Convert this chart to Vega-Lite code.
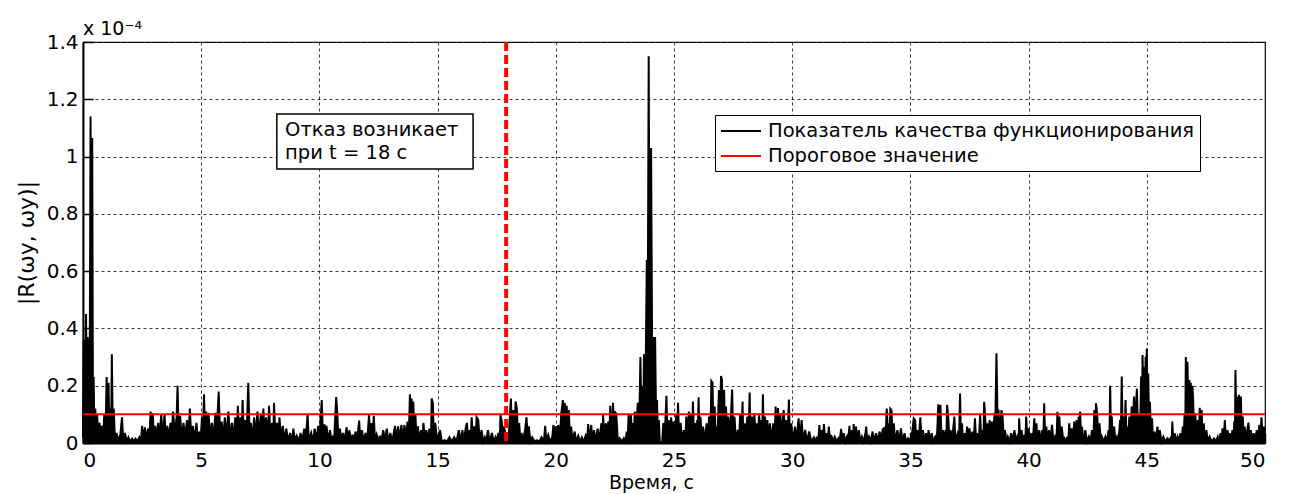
{
"$schema": "https://vega.github.io/schema/vega-lite/v6.json",
"width": 1182, "height": 401,
"autosize": {"type": "none"},
"padding": {"left": 83, "top": 42, "right": 31, "bottom": 51},
"background": "white",
"title": {"text": "x 10⁻⁴", "anchor": "start", "frame": "group", "fontSize": 19, "font": "DejaVu Sans", "fontWeight": "normal", "offset": -7, "color": "black"},
"config": {
 "view": {"stroke": "black", "strokeWidth": 1.2},
 "axis": {"gridColor": "#222222", "gridDash": [3, 3], "gridOpacity": 1, "gridWidth": 0.9, "domainColor": "black", "tickColor": "black", "labelColor": "black", "titleColor": "black", "labelFont": "DejaVu Sans", "titleFont": "DejaVu Sans", "labelFontSize": 20, "titleFontSize": 20, "titleFontWeight": "normal", "tickSize": -10, "domainWidth": 2, "tickWidth": 1.5},
 "legend": {"orient": "none", "legendX": 632, "legendY": 73, "fillColor": "white", "strokeColor": "black", "padding": 5, "symbolType": "M-2,0H2", "symbolSize": 400, "symbolOffset": 10, "symbolStrokeWidth": 1.8, "labelFontSize": 19.5, "labelFont": "DejaVu Sans", "labelColor": "black", "labelLimit": 800, "rowPadding": 4, "labelOffset": 16}
},
"datasets": {"r": [
{"t":0,"v":0.02},{"t":0.03,"v":0.36},{"t":0.06,"v":0.05},{"t":0.1,"v":0.3},{"t":0.13,"v":0.45},{"t":0.16,"v":0.08},{"t":0.19,"v":0.37},{"t":0.22,"v":0.33},{"t":0.25,"v":0.1},{"t":0.29,"v":0.4},{"t":0.32,"v":1.14},{"t":0.35,"v":0.15},{"t":0.39,"v":1.065},{"t":0.42,"v":0.12},{"t":0.45,"v":0.23},{"t":0.48,"v":0.04},{"t":0.52,"v":0.12},{"t":0.56,"v":0.02},{"t":0.6,"v":0.1},{"t":0.64,"v":0.01},{"t":0.7,"v":0.07},{"t":0.75,"v":0.02},{"t":0.8,"v":0.06},{"t":0.85,"v":0.01},{"t":0.9,"v":0.1},{"t":0.95,"v":0.02},{"t":1,"v":0.23},{"t":1.04,"v":0.05},{"t":1.08,"v":0.21},{"t":1.12,"v":0.03},{"t":1.16,"v":0.12},{"t":1.19,"v":0.02},{"t":1.22,"v":0.31},{"t":1.26,"v":0.04},{"t":1.3,"v":0.12},{"t":1.35,"v":0.01},{"t":1.42,"v":0.035},{"t":1.5,"v":0.005},{"t":1.58,"v":0.03},{"t":1.65,"v":0.09},{"t":1.7,"v":0.01},{"t":1.77,"v":0.035},{"t":1.85,"v":0.005},{"t":1.92,"v":0.02},{"t":2,"v":0.005},{"t":2.08,"v":0.015},{"t":2.15,"v":0.005},{"t":2.22,"v":0.015},{"t":2.3,"v":0.005},{"t":2.38,"v":0.02},{"t":2.45,"v":0.005},{"t":2.5,"v":0.06},{"t":2.56,"v":0.01},{"t":2.62,"v":0.055},{"t":2.68,"v":0.01},{"t":2.75,"v":0.05},{"t":2.8,"v":0.01},{"t":2.86,"v":0.11},{"t":2.9,"v":0.02},{"t":2.95,"v":0.105},{"t":3,"v":0.02},{"t":3.06,"v":0.06},{"t":3.12,"v":0.01},{"t":3.18,"v":0.07},{"t":3.24,"v":0.02},{"t":3.31,"v":0.1},{"t":3.37,"v":0.02},{"t":3.45,"v":0.1},{"t":3.5,"v":0.01},{"t":3.56,"v":0.06},{"t":3.62,"v":0.02},{"t":3.7,"v":0.07},{"t":3.75,"v":0.02},{"t":3.81,"v":0.11},{"t":3.88,"v":0.03},{"t":3.96,"v":0.09},{"t":4,"v":0.2},{"t":4.05,"v":0.02},{"t":4.11,"v":0.095},{"t":4.18,"v":0.01},{"t":4.25,"v":0.07},{"t":4.32,"v":0.02},{"t":4.4,"v":0.08},{"t":4.46,"v":0.02},{"t":4.52,"v":0.12},{"t":4.58,"v":0.02},{"t":4.65,"v":0.06},{"t":4.72,"v":0.01},{"t":4.8,"v":0.07},{"t":4.86,"v":0.01},{"t":4.93,"v":0.04},{"t":4.98,"v":0.01},{"t":5.03,"v":0.09},{"t":5.07,"v":0.03},{"t":5.12,"v":0.17},{"t":5.16,"v":0.03},{"t":5.21,"v":0.11},{"t":5.26,"v":0.02},{"t":5.31,"v":0.105},{"t":5.37,"v":0.02},{"t":5.45,"v":0.07},{"t":5.52,"v":0.01},{"t":5.6,"v":0.105},{"t":5.65,"v":0.03},{"t":5.74,"v":0.18},{"t":5.8,"v":0.02},{"t":5.87,"v":0.075},{"t":5.93,"v":0.01},{"t":6,"v":0.09},{"t":6.06,"v":0.02},{"t":6.15,"v":0.11},{"t":6.22,"v":0.02},{"t":6.3,"v":0.07},{"t":6.36,"v":0.01},{"t":6.44,"v":0.09},{"t":6.5,"v":0.02},{"t":6.55,"v":0.13},{"t":6.6,"v":0.02},{"t":6.66,"v":0.09},{"t":6.71,"v":0.02},{"t":6.75,"v":0.15},{"t":6.8,"v":0.03},{"t":6.86,"v":0.08},{"t":6.92,"v":0.02},{"t":6.99,"v":0.21},{"t":7.05,"v":0.02},{"t":7.1,"v":0.07},{"t":7.17,"v":0.01},{"t":7.24,"v":0.09},{"t":7.3,"v":0.02},{"t":7.38,"v":0.11},{"t":7.44,"v":0.02},{"t":7.52,"v":0.1},{"t":7.57,"v":0.02},{"t":7.63,"v":0.12},{"t":7.68,"v":0.02},{"t":7.74,"v":0.09},{"t":7.8,"v":0.01},{"t":7.87,"v":0.13},{"t":7.93,"v":0.02},{"t":8,"v":0.07},{"t":8.05,"v":0.01},{"t":8.08,"v":0.14},{"t":8.14,"v":0.02},{"t":8.2,"v":0.07},{"t":8.26,"v":0.01},{"t":8.31,"v":0.09},{"t":8.38,"v":0.01},{"t":8.45,"v":0.06},{"t":8.52,"v":0.01},{"t":8.6,"v":0.05},{"t":8.68,"v":0.005},{"t":8.76,"v":0.035},{"t":8.84,"v":0.005},{"t":8.9,"v":0.05},{"t":8.96,"v":0.01},{"t":9.04,"v":0.025},{"t":9.12,"v":0.005},{"t":9.2,"v":0.035},{"t":9.28,"v":0.01},{"t":9.36,"v":0.05},{"t":9.42,"v":0.01},{"t":9.5,"v":0.1},{"t":9.55,"v":0.01},{"t":9.65,"v":0.035},{"t":9.72,"v":0.005},{"t":9.8,"v":0.05},{"t":9.88,"v":0.01},{"t":9.95,"v":0.06},{"t":10,"v":0.02},{"t":10.1,"v":0.15},{"t":10.15,"v":0.02},{"t":10.22,"v":0.065},{"t":10.26,"v":0.01},
{"t":10.3,"v":0.06},{"t":10.36,"v":0.01},{"t":10.45,"v":0.045},{"t":10.5,"v":0.01},{"t":10.55,"v":0.02},{"t":10.62,"v":0.005},{"t":10.71,"v":0.16},{"t":10.76,"v":0.1},{"t":10.8,"v":0.02},{"t":10.87,"v":0.05},{"t":10.92,"v":0.01},{"t":11,"v":0.035},{"t":11.06,"v":0.005},{"t":11.15,"v":0.055},{"t":11.2,"v":0.01},{"t":11.27,"v":0.045},{"t":11.33,"v":0.005},{"t":11.4,"v":0.03},{"t":11.46,"v":0.005},{"t":11.53,"v":0.04},{"t":11.6,"v":0.01},{"t":11.68,"v":0.078},{"t":11.73,"v":0.01},{"t":11.8,"v":0.045},{"t":11.87,"v":0.005},{"t":11.95,"v":0.035},{"t":12.02,"v":0.005},{"t":12.1,"v":0.098},{"t":12.15,"v":0.01},{"t":12.2,"v":0.07},{"t":12.25,"v":0.01},{"t":12.3,"v":0.095},{"t":12.35,"v":0.01},{"t":12.42,"v":0.03},{"t":12.5,"v":0.005},{"t":12.56,"v":0.025},{"t":12.62,"v":0.005},{"t":12.7,"v":0.045},{"t":12.77,"v":0.01},{"t":12.85,"v":0.05},{"t":12.92,"v":0.005},{"t":13,"v":0.035},{"t":13.08,"v":0.005},{"t":13.2,"v":0.06},{"t":13.25,"v":0.01},{"t":13.33,"v":0.058},{"t":13.38,"v":0.01},{"t":13.47,"v":0.063},{"t":13.52,"v":0.01},{"t":13.6,"v":0.063},{"t":13.65,"v":0.01},{"t":13.73,"v":0.075},{"t":13.78,"v":0.02},{"t":13.83,"v":0.17},{"t":13.87,"v":0.06},{"t":13.9,"v":0.155},{"t":13.94,"v":0.05},{"t":13.97,"v":0.145},{"t":14.02,"v":0.02},{"t":14.06,"v":0.1},{"t":14.11,"v":0.01},{"t":14.17,"v":0.058},{"t":14.22,"v":0.005},{"t":14.3,"v":0.045},{"t":14.35,"v":0.005},{"t":14.4,"v":0.07},{"t":14.46,"v":0.01},{"t":14.52,"v":0.045},{"t":14.58,"v":0.005},{"t":14.65,"v":0.05},{"t":14.72,"v":0.01},{"t":14.75,"v":0.155},{"t":14.8,"v":0.14},{"t":14.84,"v":0.01},{"t":14.9,"v":0.07},{"t":14.98,"v":0.005},{"t":15.1,"v":0.045},{"t":15.18,"v":0.005},{"t":15.3,"v":0.01},{"t":15.4,"v":0.005},{"t":15.5,"v":0.02},{"t":15.6,"v":0.005},{"t":15.7,"v":0.02},{"t":15.8,"v":0.005},{"t":15.9,"v":0.045},{"t":15.97,"v":0.005},{"t":16.05,"v":0.045},{"t":16.1,"v":0.005},{"t":16.2,"v":0.058},{"t":16.24,"v":0.07},{"t":16.3,"v":0.01},{"t":16.36,"v":0.045},{"t":16.4,"v":0.01},{"t":16.44,"v":0.09},{"t":16.5,"v":0.01},{"t":16.55,"v":0.058},{"t":16.6,"v":0.01},{"t":16.65,"v":0.09},{"t":16.72,"v":0.08},{"t":16.78,"v":0.01},{"t":16.86,"v":0.045},{"t":16.93,"v":0.005},{"t":17,"v":0.02},{"t":17.06,"v":0.005},{"t":17.13,"v":0.045},{"t":17.2,"v":0.005},{"t":17.3,"v":0.035},{"t":17.37,"v":0.005},{"t":17.45,"v":0.02},{"t":17.5,"v":0.005},{"t":17.57,"v":0.035},{"t":17.63,"v":0.01},{"t":17.66,"v":0.098},{"t":17.72,"v":0.07},{"t":17.78,"v":0.01},{"t":17.8,"v":0.058},{"t":17.9,"v":0.02},{"t":18,"v":0.01},{"t":18.1,"v":0.155},{"t":18.15,"v":0.03},{"t":18.2,"v":0.115},{"t":18.25,"v":0.02},{"t":18.3,"v":0.145},{"t":18.35,"v":0.12},{"t":18.4,"v":0.02},{"t":18.45,"v":0.07},{"t":18.5,"v":0.01},{"t":18.55,"v":0.035},{"t":18.6,"v":0.005},{"t":18.7,"v":0.045},{"t":18.76,"v":0.09},{"t":18.82,"v":0.01},{"t":18.86,"v":0.058},{"t":18.92,"v":0.005},{"t":19,"v":0.02},{"t":19.1,"v":0.005},{"t":19.2,"v":0.01},{"t":19.3,"v":0.005},{"t":19.4,"v":0.02},{"t":19.5,"v":0.005},{"t":19.55,"v":0.06},{"t":19.6,"v":0.01},{"t":19.68,"v":0.028},{"t":19.75,"v":0.005},{"t":19.85,"v":0.02},{"t":19.9,"v":0.063},{"t":19.95,"v":0.01},{"t":20,"v":0.058},{"t":20.05,"v":0.01},{"t":20.1,"v":0.063},{"t":20.16,"v":0.01},{"t":20.24,"v":0.11},{"t":20.3,"v":0.15},{"t":20.35,"v":0.04},{"t":20.38,"v":0.14},{"t":20.43,"v":0.03},{"t":20.46,"v":0.13},{"t":20.5,"v":0.02},{"t":20.55,"v":0.115},{"t":20.6,"v":0.01},{"t":20.65,"v":0.057},
{"t":20.7,"v":0.01},{"t":20.8,"v":0.04},{"t":20.86,"v":0.005},{"t":20.95,"v":0.025},{"t":21.02,"v":0.005},{"t":21.1,"v":0.02},{"t":21.18,"v":0.005},{"t":21.26,"v":0.025},{"t":21.32,"v":0.005},{"t":21.37,"v":0.066},{"t":21.42,"v":0.01},{"t":21.5,"v":0.063},{"t":21.55,"v":0.01},{"t":21.62,"v":0.045},{"t":21.68,"v":0.005},{"t":21.77,"v":0.05},{"t":21.84,"v":0.01},{"t":21.93,"v":0.069},{"t":21.98,"v":0.01},{"t":22,"v":0.098},{"t":22.05,"v":0.02},{"t":22.12,"v":0.069},{"t":22.18,"v":0.01},{"t":22.22,"v":0.075},{"t":22.27,"v":0.02},{"t":22.3,"v":0.13},{"t":22.36,"v":0.03},{"t":22.42,"v":0.14},{"t":22.48,"v":0.02},{"t":22.5,"v":0.11},{"t":22.56,"v":0.1},{"t":22.62,"v":0.01},{"t":22.7,"v":0.017},{"t":22.8,"v":0.005},{"t":22.88,"v":0.017},{"t":22.95,"v":0.005},{"t":23,"v":0.04},{"t":23.04,"v":0.01},{"t":23.08,"v":0.1},{"t":23.13,"v":0.02},{"t":23.18,"v":0.1},{"t":23.22,"v":0.01},{"t":23.26,"v":0.07},{"t":23.3,"v":0.01},{"t":23.34,"v":0.11},{"t":23.38,"v":0.03},{"t":23.47,"v":0.14},{"t":23.52,"v":0.03},{"t":23.58,"v":0.3},{"t":23.62,"v":0.08},{"t":23.66,"v":0.2},{"t":23.7,"v":0.06},{"t":23.73,"v":0.31},{"t":23.77,"v":0.1},{"t":23.8,"v":0.24},{"t":23.85,"v":0.64},{"t":23.88,"v":0.2},{"t":23.93,"v":1.35},{"t":23.97,"v":0.3},{"t":24.03,"v":1.03},{"t":24.08,"v":0.25},{"t":24.12,"v":0.37},{"t":24.16,"v":0.2},{"t":24.2,"v":0.37},{"t":24.24,"v":0.1},{"t":24.28,"v":0.15},{"t":24.32,"v":0.02},{"t":24.36,"v":0.08},{"t":24.4,"v":0.002},{"t":24.5,"v":0.003},{"t":24.55,"v":0.07},{"t":24.6,"v":0.01},{"t":24.68,"v":0.165},{"t":24.72,"v":0.02},{"t":24.78,"v":0.08},{"t":24.83,"v":0.01},{"t":24.88,"v":0.09},{"t":24.93,"v":0.01},{"t":24.98,"v":0.075},{"t":25.04,"v":0.01},{"t":25.1,"v":0.1},{"t":25.13,"v":0.01},{"t":25.17,"v":0.14},{"t":25.22,"v":0.01},{"t":25.28,"v":0.07},{"t":25.35,"v":0.005},{"t":25.42,"v":0.045},{"t":25.48,"v":0.01},{"t":25.52,"v":0.092},{"t":25.57,"v":0.01},{"t":25.63,"v":0.11},{"t":25.67,"v":0.02},{"t":25.73,"v":0.104},{"t":25.77,"v":0.02},{"t":25.8,"v":0.145},{"t":25.85,"v":0.01},{"t":25.9,"v":0.07},{"t":25.94,"v":0.01},{"t":25.98,"v":0.08},{"t":26,"v":0.02},{"t":26.04,"v":0.16},{"t":26.08,"v":0.01},{"t":26.12,"v":0.092},{"t":26.18,"v":0.01},{"t":26.23,"v":0.057},{"t":26.3,"v":0.005},{"t":26.38,"v":0.069},{"t":26.44,"v":0.01},{"t":26.48,"v":0.092},{"t":26.54,"v":0.02},{"t":26.58,"v":0.216},{"t":26.63,"v":0.21},{"t":26.67,"v":0.02},{"t":26.72,"v":0.127},{"t":26.77,"v":0.01},{"t":26.8,"v":0.057},{"t":26.84,"v":0.01},{"t":26.9,"v":0.185},{"t":26.94,"v":0.05},{"t":26.99,"v":0.234},{"t":27.03,"v":0.22},{"t":27.08,"v":0.03},{"t":27.12,"v":0.185},{"t":27.16,"v":0.02},{"t":27.2,"v":0.127},{"t":27.25,"v":0.01},{"t":27.3,"v":0.092},{"t":27.36,"v":0.01},{"t":27.46,"v":0.187},{"t":27.5,"v":0.01},{"t":27.56,"v":0.092},{"t":27.62,"v":0.005},{"t":27.7,"v":0.046},{"t":27.75,"v":0.005},{"t":27.8,"v":0.104},{"t":27.85,"v":0.005},{"t":27.9,"v":0.145},{"t":27.93,"v":0.01},{"t":28,"v":0.069},{"t":28.05,"v":0.005},{"t":28.1,"v":0.092},{"t":28.15,"v":0.01},{"t":28.2,"v":0.176},{"t":28.24,"v":0.01},{"t":28.3,"v":0.092},{"t":28.35,"v":0.01},{"t":28.4,"v":0.104},{"t":28.45,"v":0.01},{"t":28.5,"v":0.069},{"t":28.55,"v":0.01},{"t":28.6,"v":0.104},{"t":28.65,"v":0.01},{"t":28.7,"v":0.08},{"t":28.73,"v":0.01},{"t":28.76,"v":0.17},{"t":28.8,"v":0.01},{"t":28.85,"v":0.092},{"t":28.9,"v":0.005},{"t":28.95,"v":0.08},{"t":29,"v":0.005},{"t":29.06,"v":0.069},{"t":29.12,"v":0.005},{"t":29.2,"v":0.069},{"t":29.25,"v":0.01},{"t":29.3,"v":0.127},{"t":29.35,"v":0.02},{"t":29.4,"v":0.122},{"t":29.45,"v":0.01},{"t":29.5,"v":0.104},{"t":29.55,"v":0.02},{"t":29.64,"v":0.115},{"t":29.7,"v":0.01},{"t":29.74,"v":0.08},{"t":29.8,"v":0.01},{"t":29.86,"v":0.152},{"t":29.9,"v":0.01},{"t":29.96,"v":0.069},{"t":30.02,"v":0.005},{"t":30.12,"v":0.057},{"t":30.18,"v":0.005},{"t":30.27,"v":0.086},{"t":30.32,"v":0.01},{"t":30.4,"v":0.08},{"t":30.46,"v":0.005},{"t":30.55,"v":0.046},{"t":30.62,"v":0.005},{"t":30.72,"v":0.04},{"t":30.8,"v":0.005},{"t":30.92,"v":0.02},{"t":31,"v":0.005},
{"t":31.05,"v":0.022},{"t":31.1,"v":0.005},{"t":31.15,"v":0.063},{"t":31.2,"v":0.01},{"t":31.25,"v":0.045},{"t":31.3,"v":0.01},{"t":31.34,"v":0.066},{"t":31.4,"v":0.005},{"t":31.45,"v":0.034},{"t":31.5,"v":0.005},{"t":31.55,"v":0.057},{"t":31.6,"v":0.005},{"t":31.65,"v":0.028},{"t":31.72,"v":0.005},{"t":31.8,"v":0.022},{"t":31.88,"v":0.005},{"t":31.95,"v":0.016},{"t":32,"v":0.005},{"t":32.07,"v":0.049},{"t":32.12,"v":0.005},{"t":32.18,"v":0.034},{"t":32.25,"v":0.005},{"t":32.32,"v":0.022},{"t":32.37,"v":0.005},{"t":32.42,"v":0.06},{"t":32.47,"v":0.005},{"t":32.53,"v":0.045},{"t":32.58,"v":0.005},{"t":32.6,"v":0.066},{"t":32.65,"v":0.01},{"t":32.7,"v":0.057},{"t":32.76,"v":0.005},{"t":32.82,"v":0.045},{"t":32.88,"v":0.005},{"t":32.95,"v":0.022},{"t":33.02,"v":0.005},{"t":33.1,"v":0.034},{"t":33.13,"v":0.057},{"t":33.18,"v":0.005},{"t":33.25,"v":0.022},{"t":33.32,"v":0.005},{"t":33.4,"v":0.04},{"t":33.46,"v":0.005},{"t":33.55,"v":0.034},{"t":33.62,"v":0.005},{"t":33.7,"v":0.04},{"t":33.77,"v":0.005},{"t":33.83,"v":0.051},{"t":33.88,"v":0.01},{"t":33.9,"v":0.057},{"t":33.95,"v":0.02},{"t":34,"v":0.12},{"t":34.05,"v":0.03},{"t":34.08,"v":0.069},{"t":34.12,"v":0.02},{"t":34.15,"v":0.12},{"t":34.2,"v":0.115},{"t":34.25,"v":0.01},{"t":34.3,"v":0.069},{"t":34.35,"v":0.005},{"t":34.45,"v":0.045},{"t":34.52,"v":0.005},{"t":34.6,"v":0.051},{"t":34.66,"v":0.005},{"t":34.75,"v":0.034},{"t":34.82,"v":0.005},{"t":34.9,"v":0.016},{"t":34.98,"v":0.005},{"t":35.08,"v":0.04},{"t":35.14,"v":0.086},{"t":35.2,"v":0.08},{"t":35.25,"v":0.01},{"t":35.3,"v":0.045},{"t":35.35,"v":0.005},{"t":35.42,"v":0.09},{"t":35.47,"v":0.01},{"t":35.53,"v":0.045},{"t":35.6,"v":0.005},{"t":35.66,"v":0.034},{"t":35.72,"v":0.005},{"t":35.77,"v":0.045},{"t":35.82,"v":0.005},{"t":35.9,"v":0.034},{"t":35.96,"v":0.005},{"t":36.05,"v":0.022},{"t":36.12,"v":0.01},{"t":36.18,"v":0.135},{"t":36.23,"v":0.02},{"t":36.27,"v":0.133},{"t":36.32,"v":0.01},{"t":36.38,"v":0.045},{"t":36.43,"v":0.005},{"t":36.49,"v":0.045},{"t":36.52,"v":0.01},{"t":36.55,"v":0.133},{"t":36.6,"v":0.092},{"t":36.65,"v":0.01},{"t":36.7,"v":0.045},{"t":36.76,"v":0.005},{"t":36.86,"v":0.092},{"t":36.9,"v":0.01},{"t":37,"v":0.034},{"t":37.06,"v":0.01},{"t":37.1,"v":0.173},{"t":37.14,"v":0.01},{"t":37.18,"v":0.069},{"t":37.23,"v":0.005},{"t":37.3,"v":0.034},{"t":37.35,"v":0.005},{"t":37.4,"v":0.057},{"t":37.45,"v":0.005},{"t":37.5,"v":0.051},{"t":37.55,"v":0.005},{"t":37.62,"v":0.04},{"t":37.68,"v":0.005},{"t":37.73,"v":0.086},{"t":37.78,"v":0.005},{"t":37.85,"v":0.034},{"t":37.9,"v":0.01},{"t":37.95,"v":0.098},{"t":38,"v":0.01},{"t":38.05,"v":0.045},{"t":38.09,"v":0.01},{"t":38.12,"v":0.144},{"t":38.16,"v":0.1},{"t":38.2,"v":0.01},{"t":38.25,"v":0.069},{"t":38.3,"v":0.02},{"t":38.35,"v":0.08},{"t":38.4,"v":0.02},{"t":38.45,"v":0.075},{"t":38.5,"v":0.03},{"t":38.55,"v":0.092},{"t":38.6,"v":0.11},{"t":38.64,"v":0.313},{"t":38.68,"v":0.11},{"t":38.73,"v":0.112},{"t":38.78,"v":0.02},{"t":38.85,"v":0.115},{"t":38.9,"v":0.092},{"t":38.95,"v":0.01},{"t":39,"v":0.045},{"t":39.06,"v":0.005},{"t":39.12,"v":0.022},{"t":39.2,"v":0.005},{"t":39.26,"v":0.034},{"t":39.33,"v":0.005},{"t":39.4,"v":0.045},{"t":39.46,"v":0.005},{"t":39.52,"v":0.022},{"t":39.58,"v":0.005},{"t":39.6,"v":0.086},{"t":39.65,"v":0.005},{"t":39.7,"v":0.045},{"t":39.76,"v":0.005},{"t":39.8,"v":0.028},{"t":39.86,"v":0.005},{"t":39.9,"v":0.092},{"t":39.95,"v":0.005},{"t":40,"v":0.051},{"t":40.06,"v":0.005},{"t":40.12,"v":0.034},{"t":40.18,"v":0.005},{"t":40.24,"v":0.086},{"t":40.3,"v":0.01},{"t":40.33,"v":0.069},{"t":40.38,"v":0.005},{"t":40.45,"v":0.045},{"t":40.52,"v":0.005},{"t":40.58,"v":0.045},{"t":40.62,"v":0.005},{"t":40.66,"v":0.139},{"t":40.7,"v":0.01},{"t":40.75,"v":0.057},{"t":40.8,"v":0.005},{"t":40.86,"v":0.045},{"t":40.92,"v":0.005},{"t":40.99,"v":0.063},{"t":41.05,"v":0.005},{"t":41.12,"v":0.022},{"t":41.18,"v":0.005},{"t":41.22,"v":0.109},{"t":41.26,"v":0.02},{"t":41.3,"v":0.092},
{"t":41.35,"v":0.01},{"t":41.4,"v":0.057},{"t":41.47,"v":0.005},{"t":41.52,"v":0.016},{"t":41.58,"v":0.005},{"t":41.64,"v":0.022},{"t":41.68,"v":0.005},{"t":41.72,"v":0.069},{"t":41.77,"v":0.005},{"t":41.82,"v":0.051},{"t":41.88,"v":0.01},{"t":41.93,"v":0.075},{"t":41.98,"v":0.02},{"t":42.03,"v":0.08},{"t":42.08,"v":0.02},{"t":42.12,"v":0.092},{"t":42.15,"v":0.03},{"t":42.18,"v":0.11},{"t":42.22,"v":0.01},{"t":42.26,"v":0.057},{"t":42.32,"v":0.005},{"t":42.4,"v":0.045},{"t":42.47,"v":0.005},{"t":42.55,"v":0.022},{"t":42.62,"v":0.005},{"t":42.68,"v":0.045},{"t":42.74,"v":0.005},{"t":42.78,"v":0.115},{"t":42.82,"v":0.03},{"t":42.85,"v":0.139},{"t":42.9,"v":0.104},{"t":42.95,"v":0.01},{"t":43,"v":0.069},{"t":43.05,"v":0.005},{"t":43.1,"v":0.022},{"t":43.18,"v":0.005},{"t":43.25,"v":0.022},{"t":43.32,"v":0.005},{"t":43.38,"v":0.045},{"t":43.42,"v":0.02},{"t":43.45,"v":0.2},{"t":43.49,"v":0.02},{"t":43.52,"v":0.092},{"t":43.56,"v":0.01},{"t":43.62,"v":0.057},{"t":43.67,"v":0.005},{"t":43.74,"v":0.022},{"t":43.8,"v":0.005},{"t":43.84,"v":0.045},{"t":43.87,"v":0.08},{"t":43.9,"v":0.02},{"t":43.94,"v":0.232},{"t":43.98,"v":0.02},{"t":44.02,"v":0.092},{"t":44.06,"v":0.01},{"t":44.1,"v":0.15},{"t":44.14,"v":0.02},{"t":44.18,"v":0.057},{"t":44.22,"v":0.02},{"t":44.26,"v":0.092},{"t":44.32,"v":0.03},{"t":44.36,"v":0.127},{"t":44.4,"v":0.05},{"t":44.46,"v":0.162},{"t":44.5,"v":0.06},{"t":44.58,"v":0.19},{"t":44.62,"v":0.07},{"t":44.68,"v":0.104},{"t":44.72,"v":0.05},{"t":44.76,"v":0.232},{"t":44.8,"v":0.1},{"t":44.82,"v":0.307},{"t":44.86,"v":0.15},{"t":44.89,"v":0.266},{"t":44.92,"v":0.12},{"t":44.95,"v":0.301},{"t":44.97,"v":0.15},{"t":45,"v":0.33},{"t":45.03,"v":0.1},{"t":45.06,"v":0.243},{"t":45.1,"v":0.05},{"t":45.13,"v":0.144},{"t":45.18,"v":0.03},{"t":45.22,"v":0.086},{"t":45.26,"v":0.01},{"t":45.32,"v":0.04},{"t":45.38,"v":0.005},{"t":45.45,"v":0.057},{"t":45.5,"v":0.005},{"t":45.55,"v":0.045},{"t":45.62,"v":0.005},{"t":45.7,"v":0.022},{"t":45.78,"v":0.005},{"t":45.88,"v":0.016},{"t":45.95,"v":0.005},{"t":46.02,"v":0.022},{"t":46.05,"v":0.005},{"t":46.08,"v":0.075},{"t":46.12,"v":0.005},{"t":46.18,"v":0.034},{"t":46.24,"v":0.005},{"t":46.3,"v":0.022},{"t":46.36,"v":0.005},{"t":46.42,"v":0.034},{"t":46.48,"v":0.01},{"t":46.52,"v":0.057},{"t":46.56,"v":0.02},{"t":46.6,"v":0.104},{"t":46.63,"v":0.05},{"t":46.65,"v":0.3},{"t":46.68,"v":0.15},{"t":46.72,"v":0.284},{"t":46.76,"v":0.1},{"t":46.8,"v":0.22},{"t":46.84,"v":0.08},{"t":46.86,"v":0.21},{"t":46.9,"v":0.06},{"t":46.93,"v":0.2},{"t":46.96,"v":0.152},{"t":47,"v":0.03},{"t":47.05,"v":0.104},{"t":47.1,"v":0.02},{"t":47.16,"v":0.08},{"t":47.2,"v":0.02},{"t":47.24,"v":0.123},{"t":47.28,"v":0.03},{"t":47.32,"v":0.115},{"t":47.36,"v":0.01},{"t":47.41,"v":0.069},{"t":47.46,"v":0.005},{"t":47.52,"v":0.045},{"t":47.58,"v":0.005},{"t":47.66,"v":0.022},{"t":47.74,"v":0.005},{"t":47.84,"v":0.016},{"t":47.92,"v":0.005},{"t":48,"v":0.022},{"t":48.06,"v":0.005},{"t":48.12,"v":0.034},{"t":48.18,"v":0.005},{"t":48.2,"v":0.051},{"t":48.25,"v":0.005},{"t":48.3,"v":0.08},{"t":48.35,"v":0.005},{"t":48.42,"v":0.045},{"t":48.48,"v":0.005},{"t":48.53,"v":0.034},{"t":48.58,"v":0.01},{"t":48.62,"v":0.045},{"t":48.67,"v":0.01},{"t":48.7,"v":0.075},{"t":48.73,"v":0.03},{"t":48.75,"v":0.255},{"t":48.79,"v":0.05},{"t":48.82,"v":0.162},{"t":48.86,"v":0.05},{"t":48.9,"v":0.168},{"t":48.94,"v":0.05},{"t":48.98,"v":0.162},{"t":49.02,"v":0.02},{"t":49.06,"v":0.092},{"t":49.1,"v":0.01},{"t":49.14,"v":0.057},{"t":49.2,"v":0.005},{"t":49.25,"v":0.045},{"t":49.3,"v":0.071},{"t":49.35,"v":0.005},{"t":49.4,"v":0.045},{"t":49.46,"v":0.005},{"t":49.52,"v":0.034},{"t":49.58,"v":0.005},{"t":49.65,"v":0.045},{"t":49.7,"v":0.005},{"t":49.76,"v":0.063},{"t":49.8,"v":0.01},{"t":49.85,"v":0.09},{"t":49.9,"v":0.02},{"t":49.95,"v":0.057},{"t":50,"v":0.04}
]},
"layer": [
 {"data": {"name": "r"},
  "mark": {"type": "area", "color": "#000000", "opacity": 1},
  "encoding": {"x": {"field": "t", "type": "quantitative"}, "y": {"field": "v", "type": "quantitative"}}},
 {"data": {"name": "r"},
  "mark": {"type": "line", "strokeWidth": 2},
  "encoding": {
   "x": {"field": "t", "type": "quantitative", "scale": {"domain": [0, 50], "nice": false, "zero": false},
         "axis": {"values": [0,5,10,15,20,25,30,35,40,45,50], "title": "Время, с", "labelPadding": 17, "titlePadding": 3, "titleX": 568, "titleFontSize": 19}},
   "y": {"field": "v", "type": "quantitative", "scale": {"domain": [0, 1.4], "nice": false},
         "axis": {"values": [0,0.2,0.4,0.6,0.8,1,1.2,1.4], "format": "~g", "title": "|R(ωy, ωy)|", "labelPadding": 15, "titlePadding": 8, "titleFontSize": 22}},
   "color": {"datum": "Показатель качества функционирования", "type": "nominal",
             "scale": {"domain": ["Показатель качества функционирования", "Пороговое значение"], "range": ["#000000", "#ff0000"]},
             "legend": {"title": null}}
  }},
 {"data": {"values": [{"t": 0, "v": 0.1}, {"t": 50, "v": 0.1}]},
  "mark": {"type": "line", "strokeWidth": 2},
  "encoding": {"x": {"field": "t", "type": "quantitative"}, "y": {"field": "v", "type": "quantitative"},
               "color": {"datum": "Пороговое значение", "type": "nominal"}}},
 {"data": {"values": [{"t": 17.9}]},
  "mark": {"type": "rule", "color": "#ff0000", "strokeWidth": 4, "strokeDash": [9, 4]},
  "encoding": {"x": {"field": "t", "type": "quantitative"}}},
 {"data": {"values": [{"x1": 8.2, "x2": 16.5, "y1": 0.957, "y2": 1.149}]},
  "mark": {"type": "rect", "fill": "white", "stroke": "black", "strokeWidth": 1.5},
  "encoding": {"x": {"field": "x1", "type": "quantitative"}, "x2": {"field": "x2"}, "y": {"field": "y1", "type": "quantitative"}, "y2": {"field": "y2"}}},
 {"data": {"values": [{"t": 8.55, "v": 1.093, "label": "Отказ возникает\nпри t = 18 с"}]},
  "mark": {"type": "text", "align": "left", "baseline": "middle", "lineBreak": "\n", "lineHeight": 23, "fontSize": 19.5, "font": "DejaVu Sans", "color": "black"},
  "encoding": {"x": {"field": "t", "type": "quantitative"}, "y": {"field": "v", "type": "quantitative"}, "text": {"field": "label"}}}
]
}
